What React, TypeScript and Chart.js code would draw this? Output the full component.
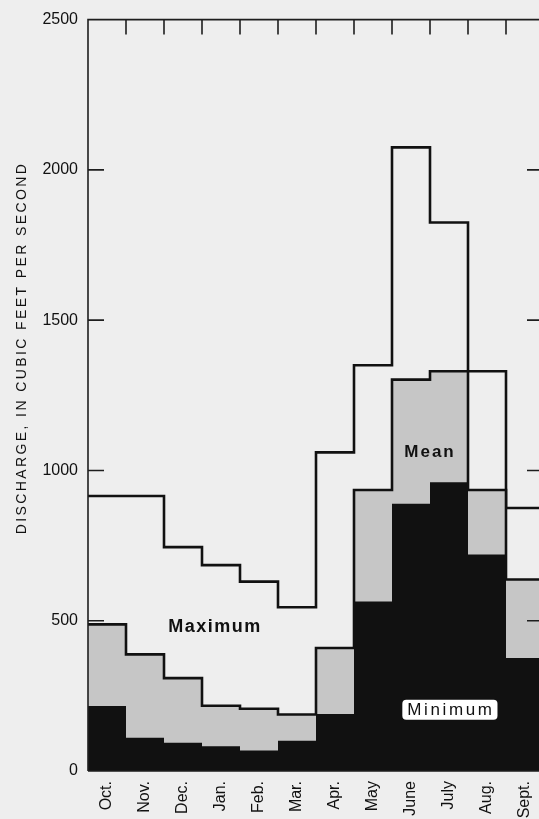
import { useEffect, useRef } from 'react';
import { Chart, registerables } from 'chart.js';

Chart.register(...registerables);

const months = ['Oct.', 'Nov.', 'Dec.', 'Jan.', 'Feb.', 'Mar.', 'Apr.', 'May', 'June', 'July', 'Aug.', 'Sept.'];
const maximum = [915, 915, 745, 685, 630, 545, 1060, 1350, 2075, 1825, 1330, 875];
const mean = [488, 388, 309, 217, 207, 188, 409, 935, 1302, 1330, 935, 637];
const minimum = [216, 111, 94, 82, 68, 101, 190, 564, 889, 961, 720, 376];
const yTicks = [0, 500, 1000, 1500, 2000, 2500];
const yTitle = 'DISCHARGE, IN CUBIC FEET PER SECOND';

const FONT = '"Liberation Sans", Arial, Helvetica, sans-serif';
const BG = '#eeeeee';

// Each month is a flat step from its left edge (i) to its right edge (i + 1).
function steps(values: number[]) {
  const pts: { x: number; y: number }[] = [];
  values.forEach((v, i) => {
    pts.push({ x: i, y: v });
    pts.push({ x: i + 1, y: v });
  });
  return pts;
}

const framePlugin = {
  id: 'frame',
  beforeDraw(chart: any) {
    const ctx = chart.ctx;
    ctx.save();
    ctx.fillStyle = BG;
    ctx.fillRect(0, 0, chart.width, chart.height);
    ctx.restore();
  },
  afterDatasetsDraw(chart: any) {
    const { ctx, chartArea } = chart;
    const xs = chart.scales.x;
    const ys = chart.scales.y;
    const { left, right, top, bottom } = chartArea;
    ctx.save();
    ctx.strokeStyle = '#1e1e1e';
    ctx.lineWidth = 1.6;
    ctx.beginPath();
    ctx.moveTo(left, bottom);
    ctx.lineTo(left, top);
    ctx.lineTo(right, top);
    ctx.lineTo(right, bottom);
    ctx.lineTo(left, bottom);
    ctx.stroke();
    ctx.beginPath();
    for (let i = 1; i < months.length; i++) {
      const px = xs.getPixelForValue(i);
      ctx.moveTo(px, top);
      ctx.lineTo(px, top + 15);
    }
    yTicks.forEach((v) => {
      if (v === 0 || v === yTicks[yTicks.length - 1]) return;
      const py = ys.getPixelForValue(v);
      ctx.moveTo(left, py);
      ctx.lineTo(left + 16, py);
      ctx.moveTo(right, py);
      ctx.lineTo(right - 17, py);
    });
    ctx.stroke();

    // series labels
    const label = (text: string, xv: number, yv: number, font: string, spacing: number, boxed: boolean) => {
      const px = xs.getPixelForValue(xv);
      const py = ys.getPixelForValue(yv);
      ctx.font = font;
      (ctx as any).letterSpacing = spacing + 'px';
      const w = ctx.measureText(text).width;
      if (boxed) {
        ctx.fillStyle = '#ffffff';
        ctx.beginPath();
        (ctx as any).roundRect(px - w / 2 - 5, py - 10, w + 8, 20, 4);
        ctx.fill();
      }
      ctx.fillStyle = '#111111';
      ctx.textAlign = 'left';
      ctx.textBaseline = 'middle';
      ctx.fillText(text, px - w / 2, py + 1);
    };
    label('Maximum', 3.34, 481, `bold 18px ${FONT}`, 1.5, false);
    label('Mean', 9.0, 1064, `bold 17px ${FONT}`, 2, false);
    label('Minimum', 9.55, 204, `17px ${FONT}`, 2.6, true);

    // y axis title
    ctx.font = `14px ${FONT}`;
    (ctx as any).letterSpacing = '2.4px';
    const tw = ctx.measureText(yTitle).width;
    ctx.translate(ys.left + 22, 348);
    ctx.rotate(-Math.PI / 2);
    ctx.fillStyle = '#111111';
    ctx.textAlign = 'left';
    ctx.textBaseline = 'middle';
    ctx.fillText(yTitle, -tw / 2, 0);
    ctx.restore();
  },
};

export default function App() {
  const ref = useRef<HTMLCanvasElement | null>(null);

  useEffect(() => {
    if (!ref.current) return;
    const chart = new Chart(ref.current, {
      type: 'line',
      data: {
        datasets: [
          {
            label: 'Minimum',
            data: steps(minimum),
            borderWidth: 0,
            borderColor: '#111111',
            backgroundColor: '#111111',
            fill: 'origin',
            pointRadius: 0,
            tension: 0,
          },
          {
            label: 'Mean',
            data: steps(mean),
            borderWidth: 2.6,
            borderColor: '#111111',
            backgroundColor: '#c6c6c6',
            fill: 'origin',
            pointRadius: 0,
            tension: 0,
          },
          {
            label: 'Maximum',
            data: steps(maximum),
            borderWidth: 2.6,
            borderColor: '#111111',
            backgroundColor: BG,
            fill: false,
            pointRadius: 0,
            tension: 0,
          },
        ],
      },
      options: {
        responsive: false,
        animation: false,
        events: [],
        layout: { padding: { top: 15, right: 16, bottom: 0, left: 0 } },
        plugins: {
          legend: { display: false },
          tooltip: { enabled: false },
        },
        scales: {
          x: {
            type: 'linear',
            min: 0,
            max: months.length,
            grid: { display: false, drawTicks: false },
            border: { display: false },
            afterBuildTicks: (scale: any) => {
              scale.ticks = months.map((_, i) => ({ value: i + 0.5 }));
            },
            afterFit: (scale: any) => {
              scale.height = 48;
            },
            ticks: {
              autoSkip: false,
              minRotation: 90,
              maxRotation: 90,
              padding: 10,
              color: '#111111',
              font: { family: FONT, size: 16 },
              callback: (v: any) => months[Math.floor(Number(v))] ?? '',
            },
          },
          y: {
            min: yTicks[0],
            max: yTicks[yTicks.length - 1],
            grid: { display: false, drawTicks: false },
            border: { display: false },
            afterBuildTicks: (scale: any) => {
              scale.ticks = yTicks.map((v) => ({ value: v }));
            },
            afterFit: (scale: any) => {
              scale.width = 88;
            },
            ticks: {
              padding: 10,
              color: '#111111',
              font: { family: FONT, size: 16 },
              callback: (v: any) => String(v),
            },
          },
        },
      },
      plugins: [framePlugin],
    } as any);
    return () => chart.destroy();
  }, []);

  return (
    <div
      style={{
        position: 'absolute',
        left: 0,
        top: 0,
        width: 539,
        height: 819,
        overflow: 'hidden',
        background: BG,
      }}
    >
      <canvas ref={ref} width={560} height={819} style={{ display: 'block', width: 560, height: 819 }} />
    </div>
  );
}
